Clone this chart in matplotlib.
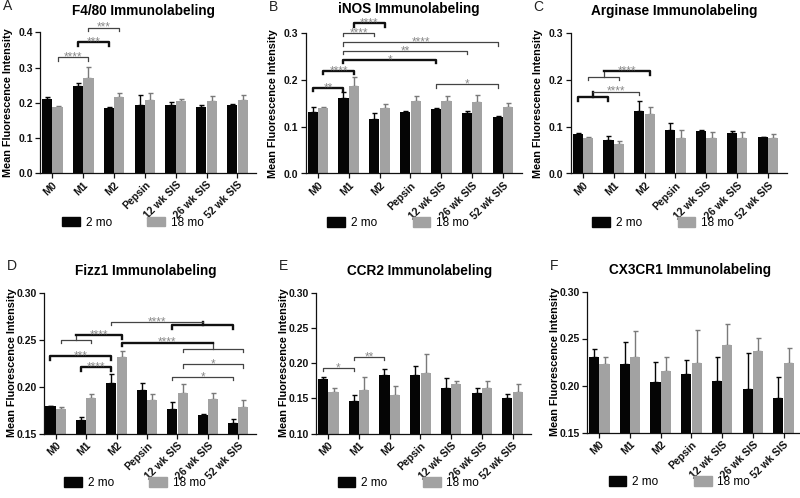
import matplotlib
matplotlib.use('Agg')
import numpy as np
import matplotlib.pyplot as plt
from matplotlib.patches import Patch

plt.rcParams['font.family'] = ['Liberation Sans', 'DejaVu Sans']

groups = ['M0', 'M1', 'M2', 'Pepsin', '12 wk SIS', '26 wk SIS', '52 wk SIS']
series = ['2 mo', '18 mo']
colors = ['#050505', '#a2a2a2']
err_colors = ['#050505', '#7a7a7a']

# A - F4/80
f480_2mo = [0.210, 0.247, 0.184, 0.195, 0.195, 0.187, 0.195]
f480_2mo_err = [0.007, 0.008, 0.005, 0.027, 0.008, 0.008, 0.001]
f480_18mo = [0.188, 0.271, 0.215, 0.209, 0.204, 0.204, 0.207]
f480_18mo_err = [0.003, 0.032, 0.012, 0.018, 0.007, 0.015, 0.014]

# B - iNOS
inos_2mo = [0.131, 0.161, 0.117, 0.132, 0.137, 0.129, 0.120]
inos_2mo_err = [0.010, 0.012, 0.013, 0.002, 0.002, 0.005, 0.003]
inos_18mo = [0.139, 0.187, 0.139, 0.154, 0.154, 0.152, 0.143]
inos_18mo_err = [0.002, 0.018, 0.010, 0.012, 0.012, 0.016, 0.008]

# C - Arginase
arg_2mo = [0.085, 0.072, 0.134, 0.092, 0.090, 0.086, 0.077]
arg_2mo_err = [0.002, 0.008, 0.021, 0.015, 0.003, 0.004, 0.001]
arg_18mo = [0.075, 0.062, 0.126, 0.075, 0.076, 0.075, 0.075]
arg_18mo_err = [0.003, 0.008, 0.015, 0.018, 0.012, 0.013, 0.010]

# D - Fizz1
fizz_2mo = [0.179, 0.164, 0.204, 0.196, 0.176, 0.170, 0.161]
fizz_2mo_err = [0.0005, 0.004, 0.009, 0.008, 0.007, 0.001, 0.004]
fizz_18mo = [0.176, 0.188, 0.231, 0.186, 0.193, 0.187, 0.178]
fizz_18mo_err = [0.002, 0.004, 0.007, 0.006, 0.010, 0.006, 0.008]

# E - CCR2
ccr2_2mo = [0.178, 0.146, 0.183, 0.183, 0.164, 0.157, 0.150]
ccr2_2mo_err = [0.002, 0.008, 0.008, 0.013, 0.015, 0.008, 0.006]
ccr2_18mo = [0.159, 0.161, 0.155, 0.186, 0.170, 0.164, 0.159]
ccr2_18mo_err = [0.006, 0.019, 0.013, 0.027, 0.004, 0.011, 0.011]

# F - CX3CR1
cx3_2mo = [0.230, 0.223, 0.204, 0.2125, 0.205, 0.196, 0.187]
cx3_2mo_err = [0.009, 0.023, 0.021, 0.015, 0.025, 0.039, 0.022]
cx3_18mo = [0.223, 0.230, 0.215, 0.224, 0.243, 0.237, 0.224]
cx3_18mo_err = [0.007, 0.028, 0.015, 0.035, 0.022, 0.014, 0.016]

# significance brackets: (group, series) ends
sig_A = [('s', (0, 1), (1, 1), 0.329, '****', False),
         ('s', (1, 0), (2, 0), 0.372, '***', True),
         ('s', (1, 1), (2, 1), 0.414, '***', False)]
sig_B = [('s', (0, 0), (1, 0), 0.183, '**', True),
         ('s', (0, 1), (1, 1), 0.219, '****', True),
         ('s', (1, 0), (4, 0), 0.243, '*', True),
         ('s', (1, 0), (5, 0), 0.262, '**', False),
         ('s', (1, 0), (6, 0), 0.280, '****', False),
         ('s', (1, 0), (2, 0), 0.300, '****', False),
         ('s', (1, 1), (2, 1), 0.321, '****', True),
         ('s', (4, 0), (6, 0), 0.191, '*', False)]
sig_C = [('d', (0, 0), (1, 0), (2, 0), 0.163, 0.175, '****', True, False),
         ('d', (0, 1), (1, 1), (2, 1), 0.207, 0.218, '****', False, True)]
sig_D = [('s', (0, 0), (2, 0), 0.232, '***', True),
         ('s', (1, 0), (2, 0), 0.2207, '****', True),
         ('d', (0, 1), (1, 1), (2, 1), 0.250, 0.2545, '****', False, True),
         ('d', (4, 0), (6, 0), (2, 0), 0.2652, 0.2687, '****', True, False),
         ('d', (4, 1), (6, 1), (2, 1), 0.2403, 0.2467, '****', False, True),
         ('s', (4, 1), (6, 1), 0.2236, '*', False),
         ('s', (4, 0), (6, 0), 0.2104, '*', False)]
sig_E = [('s', (0, 0), (1, 0), 0.193, '*', False),
         ('s', (1, 0), (2, 0), 0.209, '**', False)]

panels = [
    dict(letter='A', title='F4/80 Immunolabeling', vals=(f480_2mo, f480_18mo),
         errs=(f480_2mo_err, f480_18mo_err), ylim=(0, 0.4), yticks=[0, 0.1, 0.2, 0.3, 0.4],
         fmt='%.1f', sig=sig_A, rect=(40, 32.5, 216, 140.5), tpad=21.5),
    dict(letter='B', title='iNOS Immunolabeling', vals=(inos_2mo, inos_18mo),
         errs=(inos_2mo_err, inos_18mo_err), ylim=(0, 0.3), yticks=[0, 0.1, 0.2, 0.3],
         fmt='%.1f', sig=sig_B, rect=(305.5, 33, 216, 140.5), tpad=24),
    dict(letter='C', title='Arginase Immunolabeling', vals=(arg_2mo, arg_18mo),
         errs=(arg_2mo_err, arg_18mo_err), ylim=(0, 0.3), yticks=[0, 0.1, 0.2, 0.3],
         fmt='%.1f', sig=sig_C, rect=(570.5, 33, 216, 140.5), tpad=21.5),
    dict(letter='D', title='Fizz1 Immunolabeling', vals=(fizz_2mo, fizz_18mo),
         errs=(fizz_2mo_err, fizz_18mo_err), ylim=(0.15, 0.3), yticks=[0.15, 0.2, 0.25, 0.3],
         fmt='%.2f', sig=sig_D, rect=(43.5, 292.5, 213, 141), tpad=21.5),
    dict(letter='E', title='CCR2 Immunolabeling', vals=(ccr2_2mo, ccr2_18mo),
         errs=(ccr2_2mo_err, ccr2_18mo_err), ylim=(0.10, 0.3),
         yticks=[0.10, 0.15, 0.2, 0.25, 0.3], fmt='%.2f', sig=sig_E,
         rect=(316, 292.5, 215, 141), tpad=21.5),
    dict(letter='F', title='CX3CR1 Immunolabeling', vals=(cx3_2mo, cx3_18mo),
         errs=(cx3_2mo_err, cx3_18mo_err), ylim=(0.15, 0.3), yticks=[0.15, 0.2, 0.25, 0.3],
         fmt='%.2f', sig=[], rect=(587, 291.5, 215, 141), tpad=21.5),
]

W, H = 800, 498
OFF = 0.17
BW = 0.33


def bx(ref):
    i, s = ref
    return i + (OFF if s else -OFF)


def style(bold):
    return (1.7, '#111111') if bold else (0.9, '#444444')


def star(ax, x, y, label):
    ax.annotate(label, xy=(x, y), xytext=(0, -2.4), textcoords='offset points',
                ha='center', va='baseline', fontsize=8.5, color='#8a8a8a',
                annotation_clip=False)


def draw_sig(ax, item, drop):
    if item[0] == 's':
        _, a, b, y, label, bold = item
        x1, x2 = bx(a), bx(b)
        lw, c = style(bold)
        ax.plot([x1, x1, x2, x2], [y - drop, y, y, y - drop], color=c, lw=lw, clip_on=False)
        star(ax, (x1 + x2) / 2, y, label)
    else:
        _, a, b, c3, ylo, yhi, label, blo, bhi = item
        x1, x2, x3 = bx(a), bx(b), bx(c3)
        xm = (x1 + x2) / 2
        lw, c = style(blo)
        ax.plot([x1, x1, x2, x2], [ylo - drop, ylo, ylo, ylo - drop], color=c, lw=lw, clip_on=False)
        ax.plot([xm, xm], [ylo, yhi], color=c, lw=lw, clip_on=False)
        lw, c = style(bhi)
        ax.plot([xm, x3, x3], [yhi, yhi, yhi - drop], color=c, lw=lw, clip_on=False)
        star(ax, (xm + x3) / 2, yhi, label)


fig = plt.figure(figsize=(8, 4.98), dpi=100)
x = np.arange(len(groups))

for p in panels:
    l, t, w, h = p['rect']
    ax = fig.add_axes([l / W, 1 - (t + h) / H, w / W, h / H])
    for k in range(2):
        xs = x + (OFF if k else -OFF)
        ax.bar(xs, p['vals'][k], width=BW, color=colors[k], zorder=2)
        ax.errorbar(xs, p['vals'][k], yerr=[np.zeros(len(groups)), p['errs'][k]],
                    fmt='none', ecolor=err_colors[k], elinewidth=1.0, capsize=1.8,
                    capthick=1.0, zorder=1)
    ax.set_xlim(-0.4, 6.6)
    ax.set_ylim(*p['ylim'])
    ax.set_yticks(p['yticks'])
    ax.set_yticklabels([p['fmt'] % v for v in p['yticks']], fontweight='bold', fontsize=7.5)
    ax.set_xticks(x)
    ax.set_xticklabels(groups, rotation=45, ha='right', rotation_mode='anchor',
                       fontweight='bold', fontsize=7.5)
    ax.tick_params(direction='out', length=3.5, width=0.9, pad=1.5, colors='#111111')
    for s in ['top', 'right']:
        ax.spines[s].set_visible(False)
    for s in ['left', 'bottom']:
        ax.spines[s].set_linewidth(0.9)
        ax.spines[s].set_color('#111111')
    drop = (p['ylim'][1] - p['ylim'][0]) * 3.5 / h
    for item in p['sig']:
        draw_sig(ax, item, drop)
    ax.text(-0.15, 0.5, 'Mean Fluorescence Intensity', transform=ax.transAxes,
            rotation=90, ha='center', va='center', fontweight='bold', fontsize=7.8)
    ax.text(0.48, 1 + (p['tpad'] / h), p['title'], transform=ax.transAxes,
            ha='center', va='center', fontweight='bold', fontsize=9.8)
    handles = [Patch(color=colors[k], label=series[k]) for k in range(2)]
    ax.legend(handles=handles, loc='center', bbox_to_anchor=(0.43, -49.5 / h), ncol=2,
              frameon=False, fontsize=8.5, handlelength=1.5, handleheight=0.9,
              handletextpad=0.5, columnspacing=3.0, borderaxespad=0)
    fig.text((l - 37) / W, 1 - (t - 26) / H, p['letter'], ha='left', va='center',
             fontsize=10, color='#222222')

fig.savefig('out.png', dpi=100)
